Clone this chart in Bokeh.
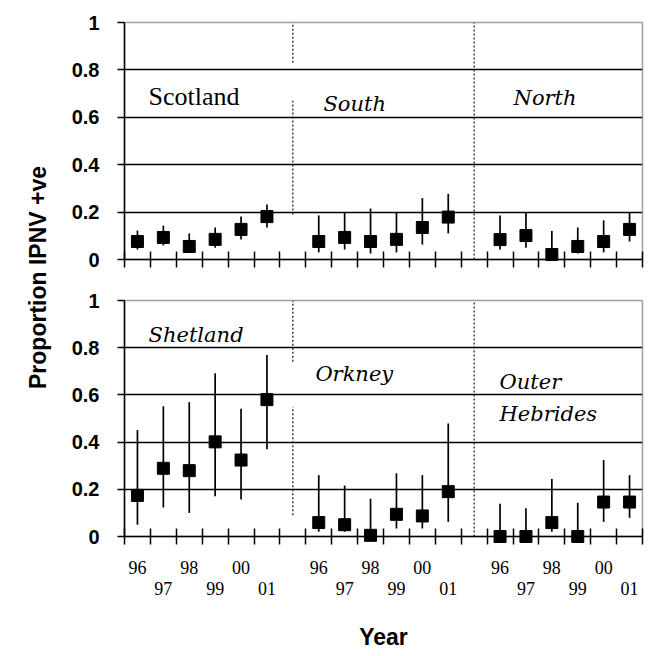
import math
from bokeh.plotting import figure
from bokeh.models import Range1d, FixedTicker, LinearAxis, Label, ColumnDataSource
from bokeh.layouts import row, column
from bokeh.embed import file_html
from bokeh.resources import INLINE

# ---------------- data ----------------
years = ["96", "97", "98", "99", "00", "01"]
y_ticks = [0, 0.2, 0.4, 0.6, 0.8, 1]
y_tick_labels = ["0", "0.2", "0.4", "0.6", "0.8", "1"]

top_regions = ["Scotland", "South", "North"]
bottom_regions = ["Shetland", "Orkney", "Outer Hebrides"]

scotland_mean = [0.076, 0.093, 0.055, 0.085, 0.127, 0.181]
scotland_low = [0.042, 0.059, 0.030, 0.050, 0.084, 0.135]
scotland_high = [0.122, 0.143, 0.110, 0.135, 0.181, 0.232]

south_mean = [0.076, 0.093, 0.076, 0.085, 0.135, 0.179]
south_low = [0.030, 0.042, 0.025, 0.030, 0.063, 0.110]
south_high = [0.186, 0.200, 0.215, 0.200, 0.259, 0.277]

north_mean = [0.084, 0.101, 0.021, 0.055, 0.076, 0.127]
north_low = [0.042, 0.050, 0.000, 0.025, 0.030, 0.076]
north_high = [0.186, 0.200, 0.120, 0.135, 0.165, 0.200]

shetland_mean = [0.174, 0.289, 0.279, 0.401, 0.324, 0.580]
shetland_low = [0.050, 0.123, 0.100, 0.171, 0.157, 0.370]
shetland_high = [0.451, 0.552, 0.569, 0.692, 0.541, 0.769]

orkney_mean = [0.059, 0.050, 0.005, 0.094, 0.087, 0.190]
orkney_low = [0.020, 0.020, 0.000, 0.034, 0.034, 0.062]
orkney_high = [0.260, 0.216, 0.160, 0.268, 0.260, 0.479]

hebrides_mean = [0.000, 0.000, 0.059, 0.000, 0.146, 0.146]
hebrides_low = [0.000, 0.000, 0.020, 0.000, 0.062, 0.079]
hebrides_high = [0.139, 0.120, 0.244, 0.143, 0.324, 0.260]

top_series = [(scotland_mean, scotland_low, scotland_high),
              (south_mean, south_low, south_high),
              (north_mean, north_low, north_high)]
bottom_series = [(shetland_mean, shetland_low, shetland_high),
                 (orkney_mean, orkney_low, orkney_high),
                 (hebrides_mean, hebrides_low, hebrides_high)]

# ---------------- layout constants ----------------
N_SLOTS = 20          # 3 groups of 6 years + 2 separators
GROUP_STEP = 7
boundaries = [float(b) for b in range(N_SLOTS + 1)]

FIG_W = 600
MB_LEFT = 66
MB_RIGHT = 16

SERIF = "Liberation Serif"
ITALIC_SERIF = "DejaVu Serif"
SANS = "Liberation Sans"


def centers():
    xs, labs = [], []
    for g in range(3):
        for i, yr in enumerate(years):
            xs.append(g * GROUP_STEP + i + 0.5)
            labs.append(yr)
    return xs, labs


def label_axis(ticks, overrides, standoff):
    ax = LinearAxis(ticker=FixedTicker(ticks=ticks, minor_ticks=[]))
    ax.major_label_overrides = overrides
    ax.axis_line_color = None
    ax.major_tick_line_color = None
    ax.minor_tick_line_color = None
    ax.major_tick_out = 0
    ax.major_tick_in = 0
    ax.minor_tick_out = 0
    ax.minor_tick_in = 0
    ax.major_label_standoff = standoff
    ax.major_label_text_font = SERIF
    ax.major_label_text_font_size = "18px"
    ax.major_label_text_color = "black"
    return ax


def make_panel(series, height, mb_top, mb_bottom, dividers, labels, with_labels):
    p = figure(width=FIG_W, height=height, x_range=Range1d(0, N_SLOTS),
               y_range=Range1d(0, 1), toolbar_location=None, output_backend="svg",
               min_border_left=MB_LEFT, min_border_right=MB_RIGHT,
               min_border_top=mb_top, min_border_bottom=mb_bottom,
               background_fill_color="white", border_fill_color="white")
    p.outline_line_color = "#a0a0a0"
    p.outline_line_width = 1.5
    p.xgrid.visible = False
    p.ygrid.ticker = FixedTicker(ticks=[0.2, 0.4, 0.6, 0.8])
    p.ygrid.grid_line_color = "black"
    p.ygrid.grid_line_width = 1.5

    # y axis
    ya = p.yaxis[0]
    ya.ticker = FixedTicker(ticks=y_ticks, minor_ticks=[])
    ya.major_label_overrides = {t: l for t, l in zip(y_ticks, y_tick_labels)}
    ya.major_tick_out = 7
    ya.major_tick_in = 0
    ya.minor_tick_out = 0
    ya.minor_tick_in = 0
    ya.major_tick_line_width = 1.5
    ya.axis_line_width = 1.5
    ya.axis_line_color = "black"
    ya.major_label_standoff = 18
    ya.major_label_text_font = SANS
    ya.major_label_text_font_style = "bold"
    ya.major_label_text_font_size = "20px"
    ya.major_label_text_color = "black"

    # x axis: tick marks at slot boundaries, no visible labels
    xa = p.xaxis[0]
    xa.ticker = FixedTicker(ticks=boundaries, minor_ticks=[])
    xa.major_label_overrides = {b: " " for b in boundaries}
    xa.axis_line_width = 1.5
    xa.axis_line_color = "black"
    xa.major_tick_line_color = "black"
    xa.major_tick_line_width = 1.5
    xa.major_tick_in = 8
    xa.major_tick_out = 8
    xa.minor_tick_in = 0
    xa.minor_tick_out = 0
    xa.major_label_standoff = 0
    xa.major_label_text_font_size = "1px"

    if with_labels:
        xs, labs = centers()
        even = [x for k, x in enumerate(xs) if k % 2 == 0]
        odd = [x for k, x in enumerate(xs) if k % 2 == 1]
        xb = label_axis(even, {x: labs[xs.index(x)] for x in even}, 12)
        xc = label_axis(odd, {x: labs[xs.index(x)] for x in odd}, 5)
        xc.axis_label = "Year"
        xc.axis_label_standoff = 26
        xc.axis_label_text_font = SANS
        xc.axis_label_text_font_style = "bold"
        xc.axis_label_text_font_size = "23px"
        xc.axis_label_text_color = "black"
        p.add_layout(xb, "below")
        p.add_layout(xc, "below")

    # dotted separators
    dsrc = ColumnDataSource(dict(x=[d[0] for d in dividers],
                                 y0=[d[1] for d in dividers],
                                 y1=[d[2] for d in dividers]))
    p.segment(x0="x", y0="y0", x1="x", y1="y1", source=dsrc,
              line_color="#111111", line_width=1.2, line_dash="2 2")

    # data
    for g, (m, lo, hi) in enumerate(series):
        gx = [g * GROUP_STEP + i + 0.5 for i in range(len(years))]
        src = ColumnDataSource(dict(x=gx, m=m, lo=lo, hi=hi))
        p.segment(x0="x", y0="lo", x1="x", y1="hi", source=src,
                  line_color="black", line_width=1.7, level="overlay")
        p.scatter(x="x", y="m", source=src, marker="square", size=12,
                  fill_color="black", line_color="black", level="overlay")

    for (txt, x, y, font, style, size) in labels:
        p.add_layout(Label(x=x, y=y, text=txt, text_font=font, text_font_style=style,
                           text_font_size=size, text_color="black",
                           text_align="left", text_baseline="alphabetic"))
    return p


top_labels = [
    (top_regions[0], 0.93, 0.686, SERIF, "normal", "26px"),
    (top_regions[1], 7.68, 0.656, ITALIC_SERIF, "italic", "21px"),
    (top_regions[2], 15.02, 0.682, ITALIC_SERIF, "italic", "21px"),
]
bottom_labels = [
    (bottom_regions[0], 0.93, 0.855, ITALIC_SERIF, "italic", "21px"),
    (bottom_regions[1], 7.37, 0.688, ITALIC_SERIF, "italic", "21px"),
    (bottom_regions[2].split(" ")[0], 14.48, 0.653, ITALIC_SERIF, "italic", "21px"),
    (bottom_regions[2].split(" ")[1], 14.48, 0.518, ITALIC_SERIF, "italic", "21px"),
]

top_div = [(6.5, 0.83, 1.0), (6.5, 0.19, 0.67), (13.5, 0.0, 1.0)]
bottom_div = [(6.5, 0.74, 1.0), (6.5, 0.09, 0.55), (13.5, 0.0, 1.0)]

TOP_H = 278
BOT_H = 374
top = make_panel(top_series, TOP_H, 22, 19, top_div, top_labels, False)
bottom = make_panel(bottom_series, BOT_H, 22, 114, bottom_div, bottom_labels, True)

LEFT_W = 58
left = figure(width=LEFT_W, height=TOP_H + BOT_H, x_range=Range1d(0, LEFT_W),
              y_range=Range1d(0, TOP_H + BOT_H),
              toolbar_location=None, output_backend="svg", min_border=0,
              x_axis_type=None, y_axis_type=None)
left.outline_line_color = None
left.grid.visible = False
left.add_layout(Label(x=37, y=TOP_H + BOT_H - 277, text="Proportion IPNV +ve", angle=math.pi / 2,
                      text_align="center", text_baseline="middle", text_font=SANS,
                      text_font_style="bold", text_font_size="23px", text_color="black"))

layout = row(left, column(top, bottom))
open("out.html", "w").write(file_html(layout, INLINE))
